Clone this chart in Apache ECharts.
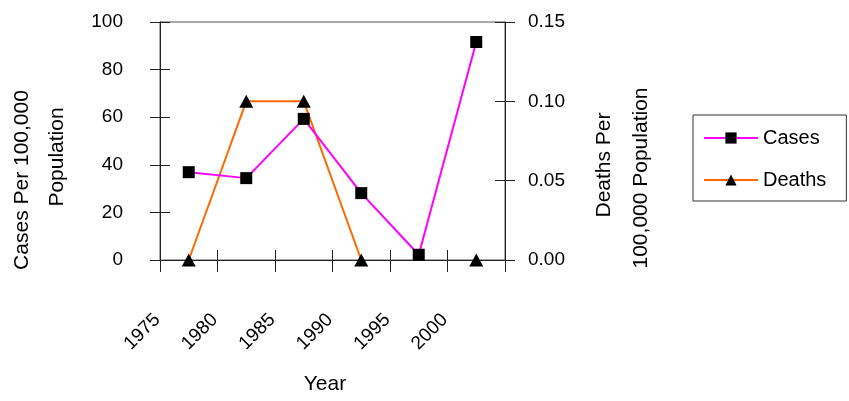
<!DOCTYPE html>
<html>
<head>
<meta charset="utf-8">
<script src="https://cdn.jsdelivr.net/npm/echarts@6/dist/echarts.min.js"></script>
<style>
  html, body { margin: 0; padding: 0; background: #fff; }
  #chart { width: 849px; height: 401px; }
</style>
</head>
<body>
<div id="chart"></div>
<script>
// Reporting periods (one point per period) and the year labels at the period boundaries
const periods = ['1975', '1980', '1985', '1990', '1995', '2000'];
const yearTicks = ['1975', '1980', '1985', '1990', '1995', '2000', ''];

// Rates per 100,000 population
const cases = [36.9, 34.4, 59.3, 28.1, 2.2, 91.6];
const deaths = [0, 0.1, 0.1, 0, null, 0];

const FONT = "'Liberation Sans', Arial, Helvetica, sans-serif";
const AXIS_COLOR = '#222';

const chart = echarts.init(document.getElementById('chart'), null, { renderer: 'canvas' });

const baseTickAxis = {
  type: 'category',
  boundaryGap: false,
  data: yearTicks,
  position: 'bottom',
  axisLine: { show: false },
  splitLine: { show: false }
};

chart.setOption({
  animation: false,
  backgroundColor: '#fff',
  textStyle: { fontFamily: FONT },
  grid: {
    left: 160, right: 344, top: 22, bottom: 141,
    show: true, borderColor: '#555', borderWidth: 1, backgroundColor: 'transparent'
  },
  xAxis: [
    // year labels and outward ticks
    Object.assign({}, baseTickAxis, {
      axisLine: { show: true, lineStyle: { color: AXIS_COLOR, width: 1 } },
      axisTick: { show: true, inside: false, length: 12, lineStyle: { color: AXIS_COLOR } },
      axisLabel: {
        show: true, interval: 0, rotate: 45, margin: 54,
        padding: [0, 4, 0, 0],
        fontSize: 19, color: '#000', fontFamily: FONT
      }
    }),
    // inward half of the crossing ticks
    Object.assign({}, baseTickAxis, {
      axisTick: { show: true, inside: true, length: 10, lineStyle: { color: AXIS_COLOR } },
      axisLabel: { show: false }
    }),
    // axis the series are plotted on: one slot per period
    {
      type: 'category', boundaryGap: true, data: periods, position: 'top',
      show: false
    }
  ],
  yAxis: [
    {
      type: 'value', position: 'left', min: 0, max: 100, interval: 20,
      axisLine: { show: true, lineStyle: { color: AXIS_COLOR } },
      axisTick: { show: true, length: 10, lineStyle: { color: AXIS_COLOR } },
      axisLabel: { margin: 37, fontSize: 19, color: '#000', fontFamily: FONT },
      splitLine: { show: false }
    },
    {
      type: 'value', position: 'right', min: 0, max: 0.15, interval: 0.05,
      axisLine: { show: true, lineStyle: { color: AXIS_COLOR } },
      axisTick: { show: true, length: 10, lineStyle: { color: AXIS_COLOR } },
      axisLabel: {
        margin: 23, fontSize: 19, color: '#000', fontFamily: FONT,
        formatter: v => v.toFixed(2)
      },
      splitLine: { show: false }
    },
    {
      type: 'value', position: 'left', min: 0, max: 100, interval: 20,
      axisLine: { show: false },
      axisTick: { show: true, inside: true, length: 10, lineStyle: { color: AXIS_COLOR } },
      axisLabel: { show: false }, splitLine: { show: false }
    },
    {
      type: 'value', position: 'right', min: 0, max: 0.15, interval: 0.05,
      axisLine: { show: false },
      axisTick: { show: true, inside: true, length: 10, lineStyle: { color: AXIS_COLOR } },
      axisLabel: { show: false }, splitLine: { show: false }
    }
  ],
  legend: {
    orient: 'vertical',
    left: 693, top: 115,
    padding: [13, 20, 11, 10],
    itemWidth: 54, itemHeight: 14, itemGap: 22,
    borderColor: '#333', borderWidth: 1,
    textStyle: { fontSize: 20, lineHeight: 20, color: '#000', fontFamily: FONT },
    data: ['Cases', 'Deaths']
  },
  series: [
    {
      name: 'Cases', type: 'line', xAxisIndex: 2, yAxisIndex: 0,
      data: cases,
      symbol: 'rect', symbolSize: 12,
      itemStyle: { color: '#000', borderWidth: 0 },
      lineStyle: { color: '#ff00ff', width: 2 },
      z: 3
    },
    {
      name: 'Deaths', type: 'line', xAxisIndex: 2, yAxisIndex: 1,
      data: deaths, connectNulls: false,
      symbol: 'triangle', symbolSize: [14, 13],
      itemStyle: { color: '#000', borderWidth: 0 },
      lineStyle: { color: '#ff6a00', width: 2 },
      z: 2
    }
  ],
  graphic: [
    { type: 'text', x: 22, y: 180, rotation: Math.PI / 2,
      style: { text: 'Cases Per 100,000', font: '21px ' + FONT, fill: '#000', align: 'center', verticalAlign: 'middle' } },
    { type: 'text', x: 57, y: 157, rotation: Math.PI / 2,
      style: { text: 'Population', font: '21px ' + FONT, fill: '#000', align: 'center', verticalAlign: 'middle' } },
    { type: 'text', x: 604, y: 165, rotation: Math.PI / 2,
      style: { text: 'Deaths Per', font: '21px ' + FONT, fill: '#000', align: 'center', verticalAlign: 'middle' } },
    { type: 'text', x: 641, y: 178, rotation: Math.PI / 2,
      style: { text: '100,000 Population', font: '21px ' + FONT, fill: '#000', align: 'center', verticalAlign: 'middle' } },
    { type: 'text', x: 325, y: 384,
      style: { text: 'Year', font: '21px ' + FONT, fill: '#000', align: 'center', verticalAlign: 'middle' } }
  ]
});
</script>
</body>
</html>
